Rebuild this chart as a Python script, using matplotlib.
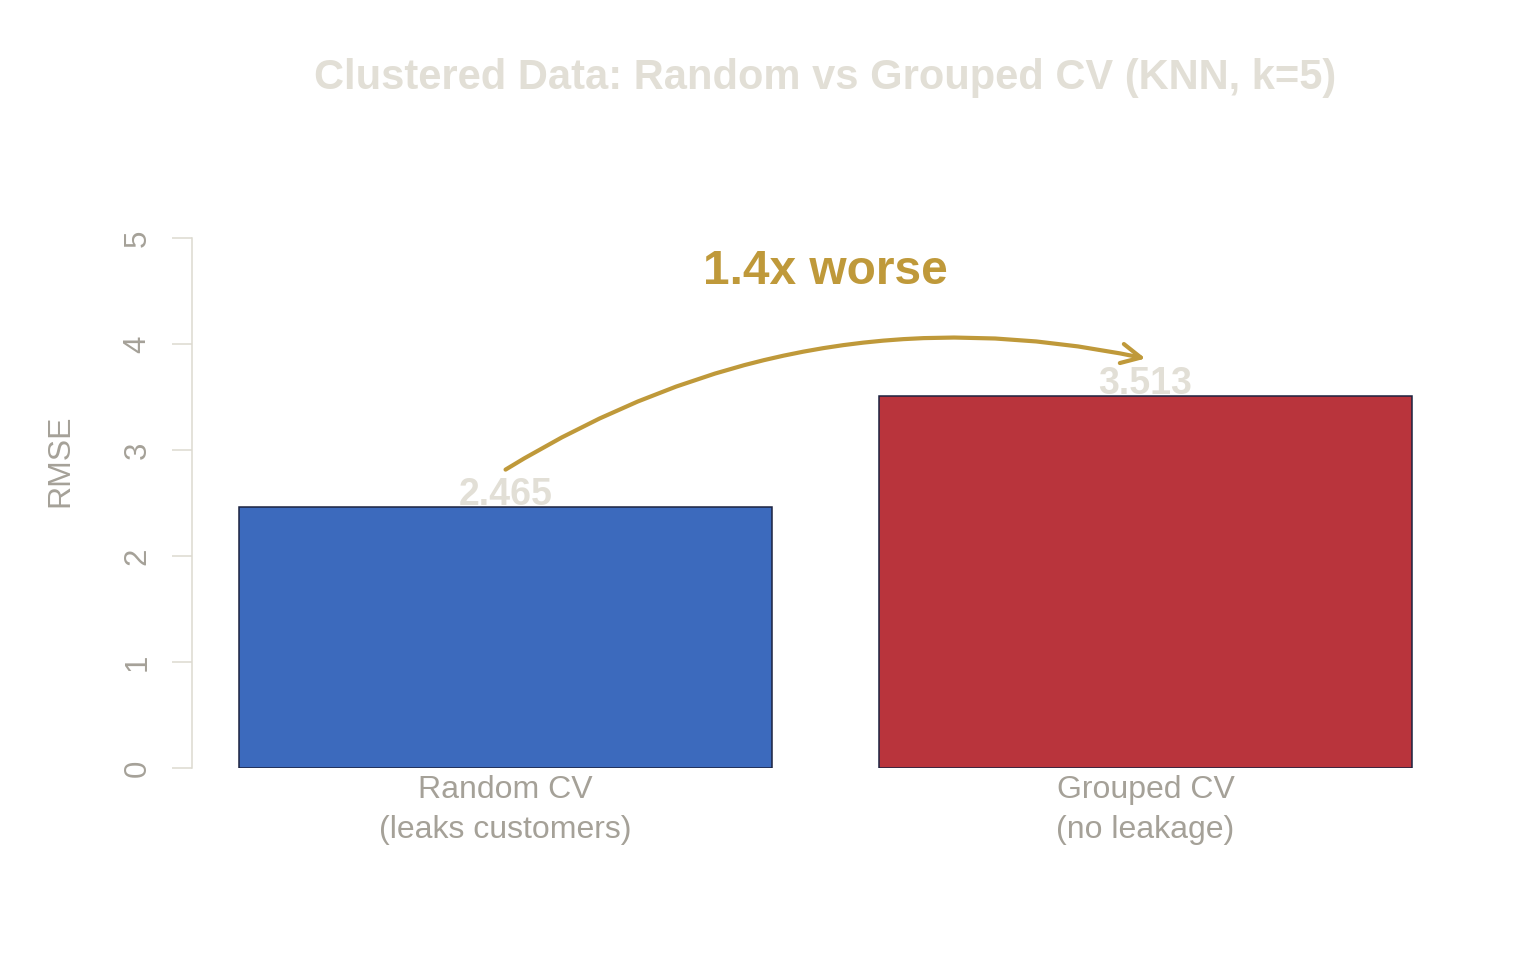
import matplotlib
matplotlib.use('Agg')
import matplotlib.pyplot as plt
from matplotlib.patches import FancyArrowPatch

plt.rcParams['font.family'] = ['Liberation Sans', 'DejaVu Sans']

methods = ['Random CV\n(leaks customers)', 'Grouped CV\n(no leakage)']
rmse = [2.465, 3.513]
bar_colors = ['#3C6ABD', '#B9343C']
ratio = rmse[1] / rmse[0]

title_col = '#E2DFD6'
axis_col = '#A5A198'
line_col = '#DDDAD0'
gold = '#BF993A'

fig = plt.figure(figsize=(15.36, 9.6), dpi=100)
ax = fig.add_axes([192 / 1536, 0.2, (1459 - 192) / 1536, 0.6404])

x = [0.7, 1.9]
ax.bar(x, rmse, width=1.0, color=bar_colors, edgecolor='#1C2340', linewidth=1.1)

ax.set_xlim(0.112, 2.488)
ax.set_ylim(0, 5.8)

for s in ['top', 'right', 'bottom']:
    ax.spines[s].set_visible(False)
ax.spines['left'].set_bounds(0, 5)
ax.spines['left'].set_color(line_col)
ax.spines['left'].set_linewidth(1.1)

ax.set_yticks([0, 1, 2, 3, 4, 5])
ax.tick_params(axis='y', length=14.4, width=1.1, color=line_col, labelcolor=axis_col,
               labelsize=22.5, pad=14, labelrotation=90)
for lab in ax.get_yticklabels():
    lab.set_va('center')
ax.set_xticks(x)
ax.set_xticklabels(methods)
ax.tick_params(axis='x', length=0, labelcolor=axis_col, labelsize=23, pad=5)
for lab in ax.get_xticklabels():
    lab.set_linespacing(1.45)

ax.set_ylabel('RMSE', color=axis_col, fontsize=23, labelpad=34)

# value labels
for xi, v in zip(x, rmse):
    ax.text(xi, v + 0.11, f'{v:.3f}', ha='center', va='center', fontsize=27,
            fontweight='bold', color=title_col)

# curved arrow
arr = FancyArrowPatch((x[0], rmse[0] + 0.35), (x[1], rmse[1] + 0.35),
                      connectionstyle='arc3,rad=-0.2',
                      arrowstyle='->,head_length=14,head_width=7',
                      color=gold, linewidth=3, shrinkA=0, shrinkB=0,
                      mutation_scale=1, clip_on=False)
ax.add_patch(arr)
ax.text((x[0] + x[1]) / 2, 4.68, f'{ratio:.1f}x worse', ha='center', va='center',
        fontsize=34.5, fontweight='bold', color=gold)

fig.text(0.5 * (192 + 1459) / 1536, 1 - 78 / 960,
         'Clustered Data: Random vs Grouped CV (KNN, k=5)',
         ha='center', va='center', fontsize=30, fontweight='bold', color=title_col)

fig.savefig('out.png', dpi=100, facecolor='white')
